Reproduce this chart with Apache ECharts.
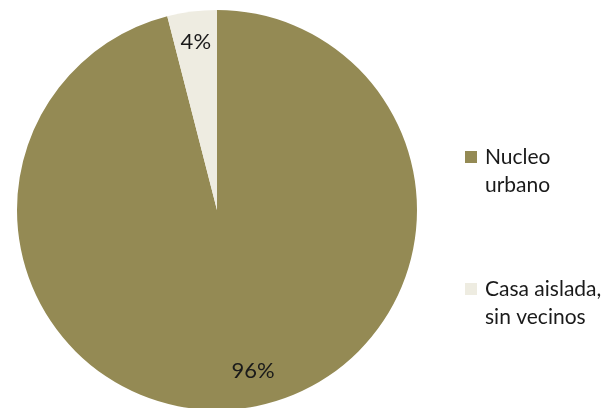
<!DOCTYPE html>
<html>
<head>
<meta charset="utf-8">
<script src="https://cdn.jsdelivr.net/npm/echarts@6/dist/echarts.min.js"></script>
<style>
  html, body { margin: 0; padding: 0; background: #fff; }
  #chart { width: 608px; height: 408px; }
</style>
</head>
<body>
<div id="chart"></div>
<script>
// data
const categories = ['Nucleo urbano', 'Casa aislada, sin vecinos'];
const legendLabels = ['Nucleo\nurbano', 'Casa aislada,\nsin vecinos'];
const values = [96, 4];
const sliceColors = ['#948A54', '#EEECE1'];

const chartInstance = echarts.init(document.getElementById('chart'));

const pieData = categories.map((name, i) => ({
  name,
  value: values[i],
  itemStyle: { color: sliceColors[i] }
}));

const option = {
  animation: false,
  textStyle: { fontFamily: 'Lato' },
  legend: {
    orient: 'vertical',
    left: 465,
    top: 115,
    padding: 0,
    itemWidth: 12,
    itemHeight: 12,
    itemGap: 48,
    icon: 'rect',
    data: categories.map((name, i) => ({ name, itemStyle: { color: sliceColors[i] } })),
    // leading blank line so the icon sits beside the first text line
    formatter: (name) => ' \n' + legendLabels[categories.indexOf(name)],
    textStyle: {
      fontFamily: 'Lato',
      fontSize: 21,
      lineHeight: 28,
      color: '#1a1a1a',
      padding: [0, 0, 0, 3]
    }
  },
  series: [
    {
      type: 'pie',
      center: [217, 210],
      radius: [0, 200],
      startAngle: 90,
      clockwise: true,
      label: { show: false },
      labelLine: { show: false },
      itemStyle: { borderWidth: 0 },
      emphasis: { disabled: true },
      data: pieData
    },
    {
      // transparent ring only used to place the % labels near the rim
      type: 'pie',
      center: [217, 210],
      radius: [132, 200],
      startAngle: 90,
      clockwise: true,
      silent: true,
      itemStyle: { color: 'rgba(0,0,0,0)', borderWidth: 0 },
      label: {
        show: true,
        position: 'inside',
        formatter: '{d}%',
        fontFamily: 'Lato',
        fontSize: 22,
        color: '#1a1a1a'
      },
      labelLine: { show: false },
      emphasis: { disabled: true },
      data: categories.map((name, i) => ({
        name,
        value: values[i],
        label: i === 0 ? { offset: [15, -7] } : {}
      }))
    }
  ]
};

chartInstance.setOption(option);
</script>
</body>
</html>
